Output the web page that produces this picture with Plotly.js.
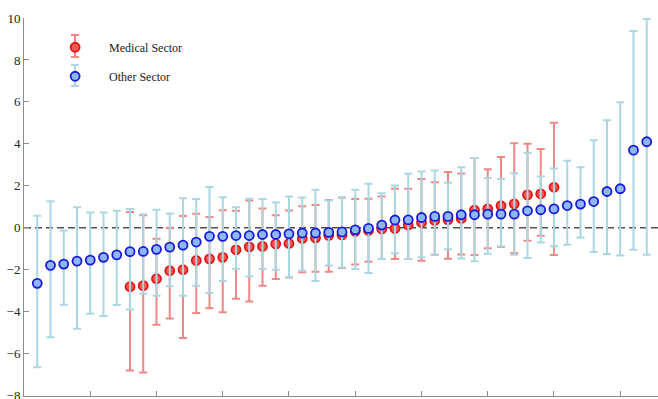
<!DOCTYPE html>
<html>
<head>
<meta charset="utf-8">
<script src="https://cdn.plot.ly/plotly-3.0.1.min.js"></script>
<style>html,body{margin:0;padding:0;background:#fff;}#chart{width:658px;height:399px;}</style>
</head>
<body>
<div id="chart"></div>
<script>
// ---- data ----
const seriesNames = ["Medical Sector", "Other Sector"];

const otherX = [1,2,3,4,5,6,7,8,9,10,11,12,13,14,15,16,17,18,19,20,21,22,23,24,25,26,27,28,29,30,31,32,33,34,35,36,37,38,39,40,41,42,43,44,45,46,47];
const otherValue = [-2.65,-1.79,-1.73,-1.59,-1.54,-1.41,-1.29,-1.14,-1.13,-1.03,-0.92,-0.83,-0.68,-0.41,-0.41,-0.37,-0.37,-0.32,-0.32,-0.29,-0.25,-0.25,-0.22,-0.20,-0.10,-0.03,0.13,0.37,0.38,0.49,0.54,0.54,0.62,0.62,0.65,0.65,0.65,0.81,0.86,0.90,1.06,1.13,1.25,1.73,1.86,3.70,4.10];
const otherUpper = [0.57,1.27,-0.13,0.98,0.73,0.73,0.81,0.89,0.65,0.86,0.68,1.41,1.37,1.94,1.46,0.98,1.38,1.37,1.20,1.49,1.44,1.81,1.30,1.46,1.81,2.10,1.65,2.02,2.57,2.68,2.73,2.15,2.88,3.32,2.37,2.33,2.60,3.56,2.44,2.83,3.19,2.89,4.17,5.13,5.98,9.38,9.97];
const otherLower = [-6.65,-5.22,-3.67,-4.81,-4.10,-4.21,-3.68,-3.90,-3.14,-3.24,-2.79,-3.24,-2.76,-3.11,-2.54,-1.95,-2.32,-1.97,-2.00,-2.37,-2.05,-2.54,-1.80,-1.89,-1.97,-2.16,-1.49,-1.21,-1.49,-1.40,-1.29,-1.02,-1.46,-1.60,-1.24,-0.89,-1.29,-1.44,-0.70,-0.88,-0.81,-0.46,-1.16,-1.25,-1.32,-1.05,-1.29];

const medX = [8,9,10,11,12,13,14,15,16,17,18,19,20,21,22,23,24,25,26,27,28,29,30,31,32,33,34,35,36,37,38,39,40];
const medValue = [-2.81,-2.76,-2.43,-2.05,-2.00,-1.56,-1.48,-1.41,-1.05,-0.91,-0.89,-0.77,-0.75,-0.51,-0.48,-0.36,-0.34,-0.17,-0.13,-0.06,-0.03,0.13,0.25,0.35,0.38,0.44,0.84,0.90,1.05,1.14,1.57,1.62,1.93];
const medUpper = [0.75,0.60,-0.52,0.00,0.56,0.67,0.51,0.83,0.81,1.30,0.92,0.60,0.82,1.03,1.08,1.32,1.43,1.37,1.38,1.49,1.86,1.86,2.33,2.17,2.66,2.59,3.32,2.79,3.37,4.03,4.00,3.76,5.01];
const medLower = [-6.81,-6.90,-4.62,-4.33,-5.25,-4.06,-3.84,-4.03,-3.38,-3.52,-2.76,-2.44,-2.37,-2.12,-2.10,-2.10,-1.92,-1.75,-1.62,-1.49,-1.49,-1.49,-1.57,-1.29,-1.48,-1.27,-1.30,-0.98,-0.92,-1.21,-0.62,-0.38,-1.30];

const yTicks = [-8,-6,-4,-2,0,2,4,6,8,10];
const xTicks = [5,10,15,20,25,30,35,40,45];

// ---- build ----
const plus = (up, v) => up.map((u, i) => +(u - v[i]).toFixed(3));
const minus = (lo, v) => lo.map((l, i) => +(v[i] - l).toFixed(3));

const serif = "Liberation Serif, Times New Roman, serif";

const medColors = {fill: 'rgb(245,85,85)', edge: 'rgb(225,20,20)', bar: 'rgb(240,135,135)'};
const otherColors = {fill: 'rgb(140,185,245)', edge: 'rgb(25,25,220)', bar: 'rgb(170,215,225)'};

const medTrace = {
  type: 'scatter', mode: 'markers', name: seriesNames[0], legendgroup: 'a',
  x: medX, y: medValue,
  marker: {size: 9, color: medColors.fill, line: {color: medColors.edge, width: 1.8}},
  error_y: {type: 'data', symmetric: false, array: plus(medUpper, medValue), arrayminus: minus(medLower, medValue),
            color: medColors.bar, thickness: 2, width: 4}
};
const otherTrace = {
  type: 'scatter', mode: 'markers', name: seriesNames[1], legendgroup: 'b',
  x: otherX, y: otherValue,
  marker: {size: 9, color: otherColors.fill, line: {color: otherColors.edge, width: 1.8}},
  error_y: {type: 'data', symmetric: false, array: plus(otherUpper, otherValue), arrayminus: minus(otherLower, otherValue),
            color: otherColors.bar, thickness: 2, width: 4}
};

// legend whisker glyphs (paper coords)
function whisker(xc, yTop, yBot, color) {
  const hw = 0.0063;
  const ln = {color: color, width: 2};
  return [
    {type: 'line', xref: 'paper', yref: 'paper', x0: xc, x1: xc, y0: yBot, y1: yTop, line: ln, layer: 'above'},
    {type: 'line', xref: 'paper', yref: 'paper', x0: xc - hw, x1: xc + hw, y0: yTop, y1: yTop, line: ln, layer: 'above'},
    {type: 'line', xref: 'paper', yref: 'paper', x0: xc - hw, x1: xc + hw, y0: yBot, y1: yBot, line: ln, layer: 'above'}
  ];
}

const layout = {
  width: 658, height: 399,
  margin: {l: 24, r: 0, t: 18, b: 3, pad: 0},
  paper_bgcolor: '#fff', plot_bgcolor: '#fff',
  font: {family: serif, size: 13, color: '#333'},
  showlegend: true,
  legend: {x: 0.027, y: 0.961, xanchor: 'left', yanchor: 'top', bgcolor: 'rgba(0,0,0,0)',
           font: {family: serif, size: 12, color: '#222'}, tracegroupgap: 10, itemwidth: 58},
  xaxis: {range: [0, 47.85], showgrid: false, zeroline: false, showline: true, linecolor: 'rgb(140,140,140)', linewidth: 1,
          ticks: 'inside', ticklen: 5, tickcolor: 'rgb(140,140,140)', tickvals: xTicks, showticklabels: false},
  yaxis: {range: [-8.02, 10], showgrid: false, zeroline: false, showline: true, linecolor: 'rgb(140,140,140)', linewidth: 1,
          ticks: 'inside', ticklen: 5, tickcolor: 'rgb(140,140,140)', tickvals: yTicks, ticklabeloverflow: 'allow',
          tickfont: {family: serif, size: 13, color: '#222'}},
  shapes: [
    {type: 'line', xref: 'paper', x0: 0, x1: 1, yref: 'y', y0: 0, y1: 0, layer: 'below',
     line: {color: 'rgb(80,80,80)', width: 1.5, dash: '7px,4px'}}
  ].concat(whisker(0.0804, 0.955, 0.897, medColors.bar), whisker(0.0804, 0.876, 0.820, otherColors.bar))
};

Plotly.newPlot('chart', [medTrace, otherTrace], layout, {staticPlot: true, displayModeBar: false});
</script>
</body>
</html>
